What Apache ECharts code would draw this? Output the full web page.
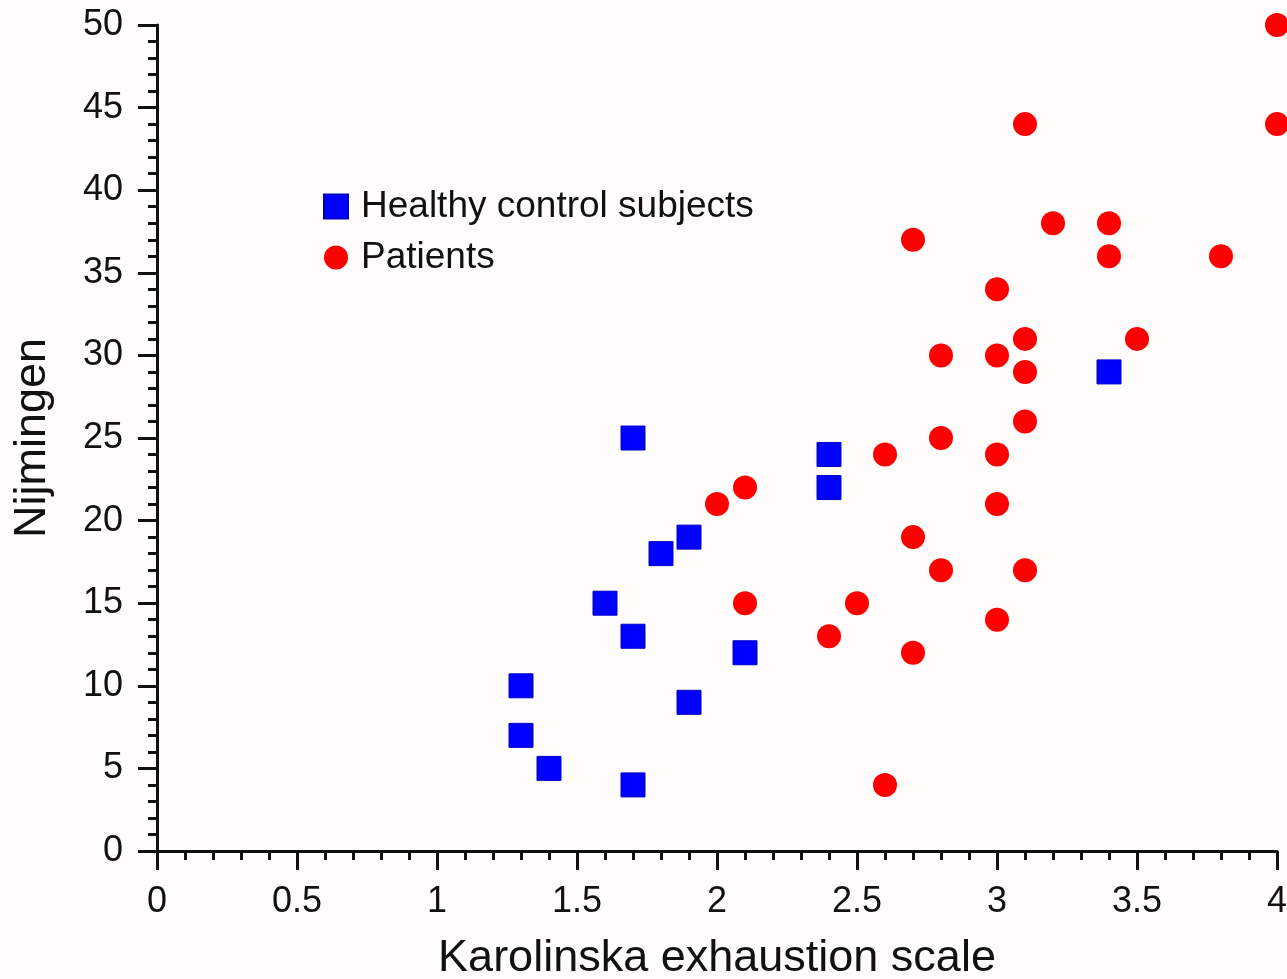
<!DOCTYPE html>
<html>
<head>
<meta charset="utf-8">
<script src="https://cdn.jsdelivr.net/npm/echarts@6/dist/echarts.min.js"></script>
<style>
  html, body { margin: 0; padding: 0; background: #fefdfc; }
  #chart { width: 1287px; height: 979px; }
</style>
</head>
<body>
<div id="chart"></div>
<script>
// Karolinska exhaustion scale (x) vs Nijmingen score (y)
const healthyKes = [1.7, 2.4, 2.4, 1.8, 1.9, 1.6, 1.7, 2.1, 1.3, 1.9, 1.3, 1.4, 1.7, 3.4];
const healthyNij = [25, 24, 22, 18, 19, 15, 13, 12, 10, 9, 7, 5, 4, 29];

const patientKes = [4.0, 4.0, 3.1, 3.2, 3.4, 2.7, 3.4, 3.8, 3.0, 3.1, 3.5, 2.8, 3.0, 3.1, 3.1,
                    2.8, 2.6, 3.0, 2.0, 2.1, 3.0, 2.7, 2.8, 3.1, 2.1, 2.5, 2.4, 3.0, 2.7, 2.6];
const patientNij = [50, 44, 44, 38, 38, 37, 36, 36, 34, 31, 31, 30, 30, 29, 26,
                    25, 24, 24, 21, 22, 21, 19, 17, 17, 15, 15, 13, 14, 12, 4];

const seriesNames = ['Healthy control subjects', 'Patients'];
const xTickStep = 0.5;
const yTickStep = 5;

const pairs = (xs, ys) => xs.map((x, i) => [x, ys[i]]);

const FONT = '"Liberation Sans", Arial, Helvetica, sans-serif';
const INK = '#111111';

const chart = echarts.init(document.getElementById('chart'), null, { renderer: 'canvas' });

const axisCommon = {
  axisLine: { show: true, onZero: false, lineStyle: { color: INK, width: 3 } },
  axisTick: { show: true, inside: false, length: 19, lineStyle: { color: INK, width: 3 } },
  minorTick: { show: true, splitNumber: 5, length: 9, lineStyle: { color: INK, width: 3 } },
  splitLine: { show: false },
  minorSplitLine: { show: false },
  nameTextStyle: { fontFamily: FONT, fontSize: 45, color: INK },
};

chart.setOption({
  backgroundColor: '#fefdfc',
  animation: false,
  grid: {
    left: 157, right: 10, top: 25, bottom: 128,
    containLabel: false,
    outerBoundsMode: 'none',
  },
  legend: {
    orient: 'vertical',
    left: 323,
    top: 188,
    padding: 0,
    itemWidth: 24,
    itemHeight: 24,
    itemGap: 14,
    selectedMode: false,
    textStyle: { fontFamily: FONT, fontSize: 37, color: INK, lineHeight: 36, padding: [0, 0, 0, 8] },
    data: [
      { name: seriesNames[0], icon: 'rect' },
      { name: seriesNames[1], icon: 'circle' },
    ],
  },
  xAxis: Object.assign({}, axisCommon, {
    type: 'value',
    min: 0,
    max: 4,
    interval: xTickStep,
    name: 'Karolinska exhaustion scale',
    nameLocation: 'middle',
    nameGap: 85,
    axisLabel: { fontFamily: FONT, fontSize: 36, color: INK, margin: 33 },
  }),
  yAxis: Object.assign({}, axisCommon, {
    type: 'value',
    min: 0,
    max: 50,
    interval: yTickStep,
    name: 'Nijmingen',
    nameLocation: 'middle',
    nameGap: 102,
    axisLabel: { fontFamily: FONT, fontSize: 36, color: INK, margin: 34 },
  }),
  series: [
    {
      name: seriesNames[0],
      type: 'scatter',
      symbol: 'rect',
      symbolSize: 24,
      clip: false,
      itemStyle: { color: '#0000ff', borderColor: '#0000c8', borderWidth: 1, opacity: 1 },
      data: pairs(healthyKes, healthyNij),
    },
    {
      name: seriesNames[1],
      type: 'scatter',
      symbol: 'circle',
      symbolSize: 24,
      clip: false,
      itemStyle: { color: '#ff0000', opacity: 1 },
      data: pairs(patientKes, patientNij),
    },
  ],
});
</script>
</body>
</html>
